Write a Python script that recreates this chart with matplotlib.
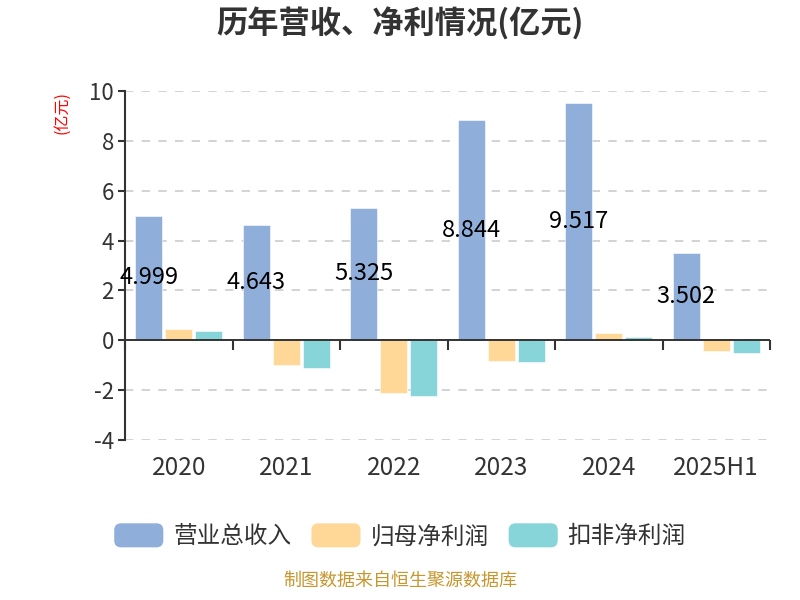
import numpy as np
import matplotlib
matplotlib.use("Agg")
import matplotlib.pyplot as plt
from matplotlib.patches import FancyBboxPatch, Patch
from matplotlib.legend_handler import HandlerPatch

years = ["2020", "2021", "2022", "2023", "2024", "2025H1"]
revenue = [4.999, 4.643, 5.325, 8.844, 9.517, 3.502]
net_profit = [0.44, -0.98, -2.10, -0.83, 0.30, -0.45]
net_profit_deducted = [0.36, -1.11, -2.24, -0.89, 0.13, -0.52]
series_names = ["营业总收入", "归母净利润", "扣非净利润"]
colors = ["#8FAEDA", "#FFD897", "#87D5D8"]


class RoundHandler(HandlerPatch):
    def create_artists(self, legend, orig_handle, xdescent, ydescent,
                       width, height, fontsize, trans):
        p = FancyBboxPatch((-xdescent, -ydescent), width, height,
                           boxstyle="round,pad=0,rounding_size=5",
                           facecolor=orig_handle.get_facecolor(),
                           edgecolor="none", transform=trans)
        return [p]


def main():
    plt.rcParams["font.family"] = ["Noto Sans CJK SC", "DejaVu Sans"]
    plt.rcParams["axes.unicode_minus"] = False
    dark = "#333333"

    fig = plt.figure(figsize=(8, 6), dpi=100)
    ax = fig.add_axes([0.15625, 0.2667, 0.80625, 0.5817])

    x = np.arange(len(years))
    w = 0.25
    off = 0.28
    for i, vals in enumerate([revenue, net_profit, net_profit_deducted]):
        ax.bar(x + (i - 1) * off, vals, width=w, color=colors[i],
               edgecolor="white", linewidth=0.4, zorder=3)

    for xi, v in zip(x, revenue):
        ax.text(xi - off, v / 2, f"{v:.3f}", ha="center", va="center",
                fontsize=17, color="black", zorder=5)

    ax.set_xlim(-0.5, len(years) - 0.5)
    ax.set_ylim(-4, 10)
    ax.set_yticks(np.arange(-4, 11, 2))
    ax.yaxis.grid(True, linestyle=(0, (5, 5)), color="#cccccc", linewidth=1.2, zorder=0)
    ax.set_axisbelow(True)

    for s in ["top", "right", "bottom"]:
        ax.spines[s].set_visible(False)
    ax.spines["left"].set_color(dark)
    ax.spines["left"].set_linewidth(1.5)
    ax.tick_params(axis="y", colors=dark, labelsize=16, length=5, width=1.5, pad=3)
    ax.tick_params(axis="x", length=0, labelsize=17.5, labelcolor=dark, pad=11)
    ax.set_xticks(x)
    ax.set_xticklabels(years)

    # x axis line at zero with boundary ticks
    ax.axhline(0, color=dark, linewidth=1.4, zorder=4)
    sec = ax.secondary_xaxis(4 / 14)
    sec.set_xticks(np.arange(-0.5, len(years), 1.0))
    sec.set_xticklabels([])
    sec.spines["bottom"].set_visible(False)
    sec.tick_params(axis="x", direction="out", length=7, width=1.5, color=dark)

    ax.text(-0.098, 1.0, "(亿元)", transform=ax.transAxes, rotation=90,
            ha="center", va="top", fontsize=11.5, color="red")

    fig.text(0.5, 0.96, "历年营收、净利情况(亿元)", ha="center", va="center",
             fontsize=22.5, fontweight="bold", color=dark)

    handles = [Patch(facecolor=c) for c in colors]
    fig.legend(handles, series_names, loc="center", bbox_to_anchor=(0.5, 0.107),
               ncol=3, frameon=False, fontsize=17, handlelength=2.08,
               handleheight=1.19, handletextpad=0.42, columnspacing=0.85,
               labelcolor=dark, handler_map={Patch: RoundHandler()})

    fig.text(0.5, 0.017, "制图数据来自恒生聚源数据库", ha="center", va="bottom",
             fontsize=13, color="#C8962E")

    fig.savefig("out.png", dpi=100)
    plt.close(fig)


if __name__ == "__main__":
    main()
